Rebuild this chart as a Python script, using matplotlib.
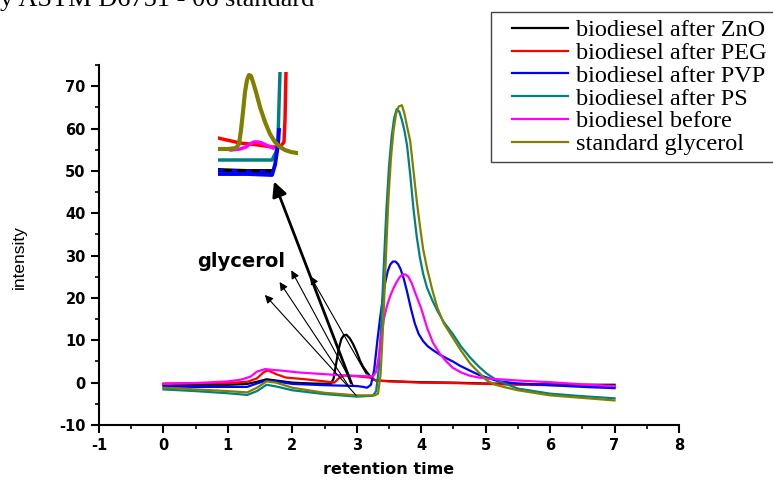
import numpy as np
import matplotlib.pyplot as plt
from matplotlib.lines import Line2D
from matplotlib.legend_handler import HandlerLine2D
from matplotlib.ticker import MultipleLocator

plt.rcParams['axes.unicode_minus'] = False

# chromatogram traces (retention time, intensity)
x_zno = [0, 0.5, 1.0, 1.3, 1.45, 1.6, 1.8, 2.0, 2.3, 2.6, 2.64, 2.68, 2.72, 2.76, 2.8,
         2.84, 2.89, 2.94, 3.0, 3.05, 3.1, 3.16, 3.24, 3.3, 3.6, 4.0, 4.5, 5.0, 5.5,
         6.0, 6.5, 7.0]
y_zno = [-0.5, -0.5, -0.5, -0.3, 0.2, 0.8, 0.4, 0.0, -0.2, -0.3, 1.0, 4.5, 8.0, 10.3, 11.2,
         11.3, 10.5, 9.2, 7.2, 5.2, 3.7, 2.4, 0.9, 0.5, 0.3, 0.1, 0.0, -0.2, -0.3,
         -0.4, -0.5, -0.5]

x_peg = [0, 0.5, 1.0, 1.3, 1.45, 1.55, 1.62, 1.75, 1.9, 2.2, 2.5, 2.65, 2.72, 2.8, 3.0,
         3.2, 3.3, 3.5, 4.0, 4.5, 5.0, 5.5, 6.0, 6.5, 7.0]
y_peg = [-0.2, -0.1, -0.1, 0.2, 1.0, 2.4, 2.9, 2.0, 1.2, 0.8, 0.3, 0.0, 1.0, 1.7, 1.5,
         1.2, 0.5, 0.3, 0.0, -0.1, -0.3, -0.5, -0.6, -0.8, -1.0]

x_pvp = [0, 0.5, 1.0, 1.3, 1.45, 1.6, 1.75, 2.0, 2.5, 3.0, 3.1, 3.16, 3.22, 3.27, 3.32,
         3.36, 3.4, 3.44, 3.48, 3.52, 3.56, 3.6, 3.64, 3.68, 3.73, 3.78, 3.84, 3.9, 3.96,
         4.03, 4.1, 4.18, 4.29, 4.4, 4.49, 4.6, 4.76, 4.9, 5.02, 5.2, 5.5, 6.0, 6.5, 7.0]
y_pvp = [-0.9, -1.0, -1.0, -1.0, -0.2, 0.5, 0.3, -0.3, -0.6, -0.8, -1.0, -1.2, -0.5, 3.0,
         10.0, 15.0, 19.5, 23.5, 26.3, 27.9, 28.6, 28.6, 28.0, 26.8, 24.5, 21.5, 17.5,
         14.0, 11.5, 9.8, 8.6, 7.7, 6.6, 5.7, 5.0, 4.0, 2.8, 1.8, 1.2, 0.3, -0.2, -0.6,
         -1.0, -1.3]

x_ps = [0, 0.5, 1.0, 1.3, 1.45, 1.6, 1.75, 2.0, 2.5, 3.0, 3.25, 3.3, 3.34, 3.38, 3.42,
        3.46, 3.5, 3.54, 3.58, 3.62, 3.66, 3.7, 3.74, 3.78, 3.83, 3.88, 3.93, 3.98, 4.03,
        4.09, 4.17, 4.25, 4.35, 4.49, 4.62, 4.76, 4.9, 5.02, 5.15, 5.3, 5.5, 6.0, 6.5, 7.0]
y_ps = [-1.6, -2.0, -2.5, -2.9, -2.0, -0.5, -0.9, -1.8, -2.7, -3.3, -3.1, -2.0, 3.0, 14.0,
        28.0, 41.0, 51.0, 58.0, 62.5, 64.6, 64.0, 62.0, 59.5, 56.0, 49.0, 41.0, 34.5, 29.5,
        25.7, 22.4, 19.5, 17.0, 14.3, 11.5, 8.5, 5.9, 3.7, 2.1, 0.8, -0.2, -1.4, -2.6,
        -3.2, -3.7]

x_before = [0, 0.5, 1.0, 1.2, 1.35, 1.45, 1.58, 1.7, 1.86, 2.1, 2.4, 2.8, 3.16, 3.25, 3.3,
            3.34, 3.38, 3.42, 3.47, 3.52, 3.57, 3.62, 3.67, 3.72, 3.76, 3.8, 3.85, 3.9,
            3.95, 4.0, 4.09, 4.18, 4.29, 4.39, 4.49, 4.62, 4.76, 4.9, 5.0, 5.5, 6.0, 6.5, 7.0]
y_before = [-0.3, -0.1, 0.3, 0.7, 1.4, 2.6, 3.2, 3.0, 2.8, 2.4, 2.1, 1.7, 1.5, 1.5, 2.5,
            6.0, 11.0, 15.0, 18.2, 20.5, 22.3, 23.8, 25.0, 25.6, 25.5, 25.0, 23.6, 21.5,
            19.5, 17.5, 13.0, 9.5, 6.8, 5.0, 3.5, 2.4, 1.6, 1.2, 1.0, 0.5, 0.1, -0.4, -0.8]

x_std = [0, 0.5, 1.0, 1.3, 1.45, 1.6, 1.75, 2.0, 2.5, 3.0, 3.28, 3.33, 3.37, 3.41, 3.45,
         3.49, 3.53, 3.57, 3.61, 3.65, 3.7, 3.74, 3.78, 3.83, 3.88, 3.93, 3.98, 4.03, 4.09,
         4.17, 4.25, 4.35, 4.49, 4.62, 4.76, 4.9, 5.02, 5.15, 5.33, 5.5, 6.0, 6.5, 7.0]
y_std = [-1.2, -1.6, -2.0, -2.3, -1.2, 0.3, 0.0, -1.2, -2.4, -3.0, -3.0, -2.6, 2.0, 14.0,
         29.0, 43.0, 53.0, 59.5, 63.5, 65.2, 65.5, 63.5, 60.5, 57.0, 50.0, 43.0, 37.0,
         31.5, 27.0, 22.0, 17.7, 14.0, 10.6, 7.5, 4.5, 2.3, 0.5, -0.5, -1.2, -1.8, -3.0,
         -3.6, -4.2]

labels = ['biodiesel after ZnO', 'biodiesel after PEG', 'biodiesel after PVP',
          'biodiesel after PS', 'biodiesel before', 'standard glycerol']
colors = ['#000000', '#ff0000', '#0000ff', '#008080', '#ff00ff', '#808000']

# magnified view of the peak foot (inset units)
ins_std_x = [0, 10, 18, 21, 23, 25, 27, 29, 31, 33, 35, 38, 42, 47, 52, 57, 62, 67, 73, 79]
ins_std_y = [31, 31, 32, 36, 50, 68, 88, 100, 105, 104, 98, 88, 73, 58, 46, 38, 33, 30, 28, 27]
ins_ps_x = [0, 20, 40, 54, 58, 60, 61, 62]
ins_ps_y = [20, 20, 20, 20, 28, 40, 75, 108]
ins_peg_x = [0, 22, 40, 54, 62, 66, 67, 68]
ins_peg_y = [42, 37, 35, 33, 33, 38, 60, 108]
ins_before_x = [13, 22, 28, 32, 36, 40, 44, 48, 55]
ins_before_y = [30, 31, 33, 36, 38, 38, 37, 35, 32]
ins_zno_x = [0, 30, 54]
ins_zno_y = [10, 9, 9]
ins_pvp_x = [0, 30, 54, 57, 60, 61]
ins_pvp_y = [6, 6, 5, 15, 35, 50]

# arrow tails and tips (retention time, intensity)
arrow_tails = [(3.02, -3.5), (2.90, -1.4), (2.97, -1.4), (3.17, 1.4)]
arrow_tips = [(1.545, 21.2), (1.778, 24.3), (1.964, 27.1), (2.259, 25.7)]
big_tail = (2.93, -0.7)
big_tip = (1.70, 48.1)

fig = plt.figure(figsize=(7.73, 4.8), dpi=100)
ax = fig.add_axes([99/773, 55/480, 580/773, 360/480])

series = [(x_zno, y_zno), (x_peg, y_peg), (x_pvp, y_pvp),
          (x_ps, y_ps), (x_before, y_before), (x_std, y_std)]
for (xs, ys), c in zip(series, colors):
    ax.plot(xs, ys, color=c, lw=1.6)

ax.set_xlim(-1, 8)
ax.set_ylim(-10, 75)
ax.xaxis.set_major_locator(MultipleLocator(1))
ax.xaxis.set_minor_locator(MultipleLocator(0.5))
ax.yaxis.set_minor_locator(MultipleLocator(5))
ax.set_yticks(range(-10, 80, 10))
ax.spines['top'].set_visible(False)
ax.spines['right'].set_visible(False)
for s in ['left', 'bottom']:
    ax.spines[s].set_linewidth(1.5)
ax.tick_params(which='major', direction='out', length=6, width=1.5)
ax.tick_params(which='minor', direction='out', length=3, width=1.2)
for lab in ax.get_xticklabels() + ax.get_yticklabels():
    lab.set_fontweight('bold')
    lab.set_fontsize(10.5)

ax.set_xlabel('retention time', fontweight='bold', fontsize=11.5, labelpad=6)
ax.set_ylabel('intensity', fontsize=12.5, family='Liberation Sans')
ax.yaxis.set_label_coords(-0.125, 0.467)

# arrows pointing at the glycerol region
for tail, tip in zip(arrow_tails, arrow_tips):
    ax.annotate('', xy=tip, xytext=tail,
                arrowprops=dict(arrowstyle='-|>', lw=0.8, color='black', mutation_scale=12))
ax.annotate('', xy=big_tip, xytext=big_tail,
            arrowprops=dict(arrowstyle='-|>', lw=2.0, color='black', mutation_scale=22))
ax.text(1.2, 28.5, 'glycerol', fontsize=14, fontweight='bold', ha='center', va='center')

# inset
ins = fig.add_axes([218/773, 300/480, 80/773, 108/480])
ins.plot(ins_ps_x, ins_ps_y, color=colors[3], lw=2.5)
ins.plot(ins_peg_x, ins_peg_y, color=colors[1], lw=2.5)
ins.plot(ins_zno_x, ins_zno_y, color=colors[0], lw=2.8)
ins.plot(ins_pvp_x, ins_pvp_y, color=colors[2], lw=2.8)
ins.plot(ins_zno_x, ins_zno_y, color=colors[2], lw=2.0, ls=(0, (2, 3)))
ins.plot(ins_before_x, ins_before_y, color=colors[4], lw=2.5)
ins.plot(ins_std_x, ins_std_y, color=colors[5], lw=3.0)
ins.set_xlim(0, 80)
ins.set_ylim(0, 108)
ins.axis('off')

# legend
fs = 17.5
fs_px = fs * 100 / 72
handles = [Line2D([], [], color=c, lw=1.6) for c in colors]
leg = fig.legend(handles, labels, loc='upper left', bbox_to_anchor=(491/773, 1 - 12/480),
                 bbox_transform=fig.transFigure, borderaxespad=0, fancybox=False,
                 edgecolor='#444444', framealpha=1, handlelength=70/fs_px,
                 handletextpad=8/fs_px, labelspacing=0.03, borderpad=0.3,
                 handler_map={Line2D: HandlerLine2D(xpad=14/fs_px)},
                 prop={'family': 'Liberation Serif', 'size': fs})
leg.get_frame().set_linewidth(1.0)

# clipped caption from the page above
fig.text(0.0, 1 - 6/480, 'y ASTM D6751 - 06 standard', family='Liberation Serif',
         fontsize=19, va='baseline', ha='left')

fig.savefig('out.png', dpi=100)
